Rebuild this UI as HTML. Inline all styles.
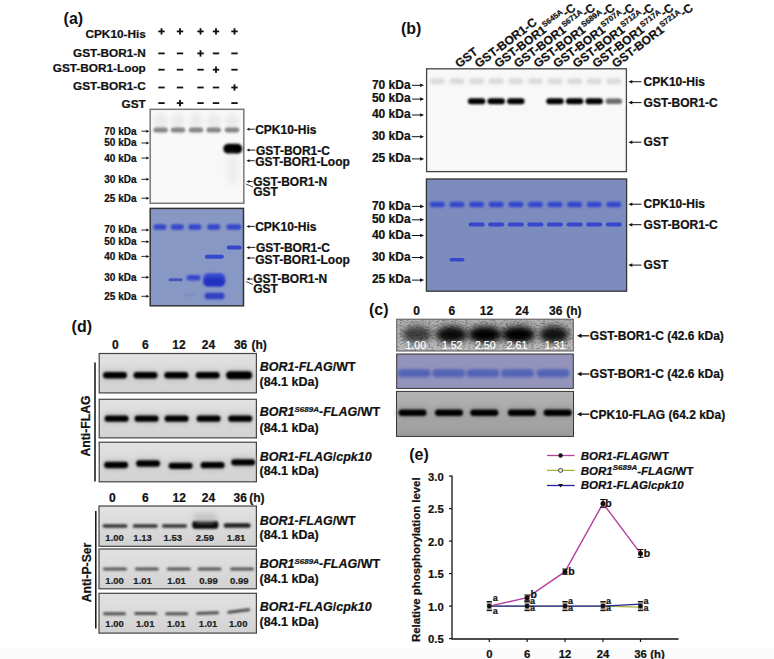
<!DOCTYPE html>
<html><head><meta charset="utf-8"><style>
html,body{margin:0;padding:0;background:#fff;}
svg{display:block;}
text{font-family:"Liberation Sans", sans-serif;}
</style></head><body>
<svg width="774" height="659" viewBox="0 0 774 659">
<rect width="774" height="659" fill="#fff"/><rect x="0" y="648" width="774" height="11" fill="#fbfbfb"/>
<defs><filter id="b0_7" x="-50%" y="-200%" width="200%" height="500%"><feGaussianBlur stdDeviation="0.7"/></filter><filter id="b0_8" x="-50%" y="-200%" width="200%" height="500%"><feGaussianBlur stdDeviation="0.8"/></filter><filter id="b0_9" x="-50%" y="-200%" width="200%" height="500%"><feGaussianBlur stdDeviation="0.9"/></filter><filter id="b1" x="-50%" y="-200%" width="200%" height="500%"><feGaussianBlur stdDeviation="1"/></filter><filter id="b1_1" x="-50%" y="-200%" width="200%" height="500%"><feGaussianBlur stdDeviation="1.1"/></filter><filter id="b1_2" x="-50%" y="-200%" width="200%" height="500%"><feGaussianBlur stdDeviation="1.2"/></filter><filter id="b1_5" x="-50%" y="-200%" width="200%" height="500%"><feGaussianBlur stdDeviation="1.5"/></filter><filter id="b1_6" x="-50%" y="-200%" width="200%" height="500%"><feGaussianBlur stdDeviation="1.6"/></filter><filter id="b2" x="-50%" y="-200%" width="200%" height="500%"><feGaussianBlur stdDeviation="2"/></filter><filter id="b2_5" x="-50%" y="-200%" width="200%" height="500%"><feGaussianBlur stdDeviation="2.5"/></filter><filter id="b3" x="-50%" y="-200%" width="200%" height="500%"><feGaussianBlur stdDeviation="3"/></filter><filter id="b3_2" x="-50%" y="-200%" width="200%" height="500%"><feGaussianBlur stdDeviation="3.2"/></filter><filter id="noise" x="0" y="0" width="100%" height="100%"><feTurbulence type="fractalNoise" baseFrequency="0.35 0.6" numOctaves="3" seed="7"/><feColorMatrix type="matrix" values="0 0 0 0 0  0 0 0 0 0  0 0 0 0 0  0 0 0 2.2 -1.0"/></filter><clipPath id="clipc1"><rect x="396.7" y="319.2" width="176.6" height="31.8"/></clipPath><linearGradient id="gstrip" x1="0" y1="0" x2="0" y2="1"><stop offset="0" stop-color="#e2e2e2"/><stop offset="1" stop-color="#d2d2d2"/></linearGradient><linearGradient id="gstrip3" x1="0" y1="0" x2="0" y2="1"><stop offset="0" stop-color="#b4b4b4"/><stop offset="1" stop-color="#9c9c9c"/></linearGradient></defs>
<text x="63.6" y="24.2" font-size="16" font-weight="bold" fill="#111" class="ns">(a)</text>
<text x="145.8" y="37.5" font-size="11.8" font-weight="bold" font-style="normal" text-anchor="end" fill="#111" stroke="#111" stroke-width="0.22" >CPK10-His</text>
<text x="145.8" y="56.5" font-size="11.8" font-weight="bold" font-style="normal" text-anchor="end" fill="#111" stroke="#111" stroke-width="0.22" >GST-BOR1-N</text>
<text x="145.8" y="72.3" font-size="11.8" font-weight="bold" font-style="normal" text-anchor="end" fill="#111" stroke="#111" stroke-width="0.22" >GST-BOR1-Loop</text>
<text x="145.8" y="90.1" font-size="11.8" font-weight="bold" font-style="normal" text-anchor="end" fill="#111" stroke="#111" stroke-width="0.22" >GST-BOR1-C</text>
<text x="145.8" y="108" font-size="11.8" font-weight="bold" font-style="normal" text-anchor="end" fill="#111" stroke="#111" stroke-width="0.22" >GST</text>
<rect x="158.3" y="30.5" width="6.4" height="1.8" fill="#111"/>
<rect x="160.6" y="28.2" width="1.8" height="6.4" fill="#111"/>
<rect x="176.8" y="30.5" width="6.4" height="1.8" fill="#111"/>
<rect x="179.1" y="28.2" width="1.8" height="6.4" fill="#111"/>
<rect x="197.3" y="30.5" width="6.4" height="1.8" fill="#111"/>
<rect x="199.6" y="28.2" width="1.8" height="6.4" fill="#111"/>
<rect x="212.8" y="30.5" width="6.4" height="1.8" fill="#111"/>
<rect x="215.1" y="28.2" width="1.8" height="6.4" fill="#111"/>
<rect x="231.3" y="30.5" width="6.4" height="1.8" fill="#111"/>
<rect x="233.6" y="28.2" width="1.8" height="6.4" fill="#111"/>
<rect x="158.3" y="52.5" width="6.4" height="1.8" fill="#111"/>
<rect x="176.8" y="52.5" width="6.4" height="1.8" fill="#111"/>
<rect x="197.3" y="52.5" width="6.4" height="1.8" fill="#111"/>
<rect x="199.6" y="50.199999999999996" width="1.8" height="6.4" fill="#111"/>
<rect x="212.8" y="52.5" width="6.4" height="1.8" fill="#111"/>
<rect x="231.3" y="52.5" width="6.4" height="1.8" fill="#111"/>
<rect x="158.3" y="68.8" width="6.4" height="1.8" fill="#111"/>
<rect x="176.8" y="68.8" width="6.4" height="1.8" fill="#111"/>
<rect x="197.3" y="68.8" width="6.4" height="1.8" fill="#111"/>
<rect x="212.8" y="68.8" width="6.4" height="1.8" fill="#111"/>
<rect x="215.1" y="66.5" width="1.8" height="6.4" fill="#111"/>
<rect x="231.3" y="68.8" width="6.4" height="1.8" fill="#111"/>
<rect x="158.3" y="86.6" width="6.4" height="1.8" fill="#111"/>
<rect x="176.8" y="86.6" width="6.4" height="1.8" fill="#111"/>
<rect x="197.3" y="86.6" width="6.4" height="1.8" fill="#111"/>
<rect x="212.8" y="86.6" width="6.4" height="1.8" fill="#111"/>
<rect x="231.3" y="86.6" width="6.4" height="1.8" fill="#111"/>
<rect x="233.6" y="84.3" width="1.8" height="6.4" fill="#111"/>
<rect x="158.3" y="102.19999999999999" width="6.4" height="1.8" fill="#111"/>
<rect x="176.8" y="102.19999999999999" width="6.4" height="1.8" fill="#111"/>
<rect x="179.1" y="99.89999999999999" width="1.8" height="6.4" fill="#111"/>
<rect x="197.3" y="102.19999999999999" width="6.4" height="1.8" fill="#111"/>
<rect x="212.8" y="102.19999999999999" width="6.4" height="1.8" fill="#111"/>
<rect x="231.3" y="102.19999999999999" width="6.4" height="1.8" fill="#111"/>
<rect x="150.2" y="109.3" width="93.6" height="94" fill="#f8f8f8" stroke="#777" stroke-width="1.5"/>
<rect x="153.60" y="113.00" width="14" height="16" rx="8.0" fill="#ebebeb" opacity="1.0" filter="url(#b2)"/>
<rect x="153.35" y="127.50" width="14.5" height="5" rx="2.5" fill="#858585" opacity="1.0" filter="url(#b1_2)"/>
<rect x="171.00" y="113.00" width="14" height="16" rx="8.0" fill="#ebebeb" opacity="1.0" filter="url(#b2)"/>
<rect x="170.75" y="127.50" width="14.5" height="5" rx="2.5" fill="#858585" opacity="1.0" filter="url(#b1_2)"/>
<rect x="189.00" y="113.00" width="14" height="16" rx="8.0" fill="#ebebeb" opacity="1.0" filter="url(#b2)"/>
<rect x="188.75" y="127.50" width="14.5" height="5" rx="2.5" fill="#858585" opacity="1.0" filter="url(#b1_2)"/>
<rect x="206.70" y="113.00" width="14" height="16" rx="8.0" fill="#ebebeb" opacity="1.0" filter="url(#b2)"/>
<rect x="206.45" y="127.50" width="14.5" height="5" rx="2.5" fill="#858585" opacity="1.0" filter="url(#b1_2)"/>
<rect x="225.00" y="113.00" width="14" height="16" rx="8.0" fill="#ebebeb" opacity="1.0" filter="url(#b2)"/>
<rect x="224.75" y="127.50" width="14.5" height="5" rx="2.5" fill="#858585" opacity="1.0" filter="url(#b1_2)"/>
<rect x="223.30" y="143.70" width="19" height="10" rx="5" fill="#000" opacity="1.0" filter="url(#b0_8)"/>
<rect x="226.50" y="155.00" width="12" height="30" rx="15.0" fill="#ececec" opacity="1.0" filter="url(#b3)"/>
<text x="136.5" y="134.6" font-size="10" font-weight="bold" font-style="normal" text-anchor="end" fill="#111" stroke="#111" stroke-width="0.22" >70 kDa</text>
<line x1="141.4" y1="131.2" x2="146.8" y2="131.2" stroke="#111" stroke-width="0.9"/>
<path d="M149.3,131.2 L146.3,129.7 L146.3,132.7 Z" fill="#111"/>
<text x="136.5" y="146.4" font-size="10" font-weight="bold" font-style="normal" text-anchor="end" fill="#111" stroke="#111" stroke-width="0.22" >50 kDa</text>
<line x1="141.4" y1="143" x2="146.8" y2="143" stroke="#111" stroke-width="0.9"/>
<path d="M149.3,143 L146.3,141.5 L146.3,144.5 Z" fill="#111"/>
<text x="136.5" y="161.5" font-size="10" font-weight="bold" font-style="normal" text-anchor="end" fill="#111" stroke="#111" stroke-width="0.22" >40 kDa</text>
<line x1="141.4" y1="158.1" x2="146.8" y2="158.1" stroke="#111" stroke-width="0.9"/>
<path d="M149.3,158.1 L146.3,156.6 L146.3,159.6 Z" fill="#111"/>
<text x="136.5" y="182.70000000000002" font-size="10" font-weight="bold" font-style="normal" text-anchor="end" fill="#111" stroke="#111" stroke-width="0.22" >30 kDa</text>
<line x1="141.4" y1="179.3" x2="146.8" y2="179.3" stroke="#111" stroke-width="0.9"/>
<path d="M149.3,179.3 L146.3,177.8 L146.3,180.8 Z" fill="#111"/>
<text x="136.5" y="201.6" font-size="10" font-weight="bold" font-style="normal" text-anchor="end" fill="#111" stroke="#111" stroke-width="0.22" >25 kDa</text>
<line x1="141.4" y1="198.2" x2="146.8" y2="198.2" stroke="#111" stroke-width="0.9"/>
<path d="M149.3,198.2 L146.3,196.7 L146.3,199.7 Z" fill="#111"/>
<text x="255.2" y="134.4" font-size="12" font-weight="bold" font-style="normal" text-anchor="start" fill="#111" stroke="#111" stroke-width="0.22" >CPK10-His</text>
<line x1="249.0" y1="129.2" x2="254.7" y2="129.2" stroke="#111" stroke-width="0.9"/>
<path d="M246.5,129.2 L249.5,127.69999999999999 L249.5,130.7 Z" fill="#111"/>
<text x="255.89999999999998" y="155.1" font-size="12" font-weight="bold" font-style="normal" text-anchor="start" fill="#111" stroke="#111" stroke-width="0.22" >GST-BOR1-C</text>
<line x1="249.0" y1="150.1" x2="255.39999999999998" y2="150.1" stroke="#111" stroke-width="0.9"/>
<path d="M246.5,150.1 L249.5,148.6 L249.5,151.6 Z" fill="#111"/>
<text x="255.2" y="166.1" font-size="12" font-weight="bold" font-style="normal" text-anchor="start" fill="#111" stroke="#111" stroke-width="0.22" >GST-BOR1-Loop</text>
<line x1="249.0" y1="160.7" x2="254.7" y2="160.7" stroke="#111" stroke-width="0.9"/>
<path d="M246.5,160.7 L249.5,159.2 L249.5,162.2 Z" fill="#111"/>
<text x="253.2" y="186.2" font-size="12" font-weight="bold" font-style="normal" text-anchor="start" fill="#111" stroke="#111" stroke-width="0.22" >GST-BOR1-N</text>
<line x1="249.0" y1="181.5" x2="252.7" y2="181.5" stroke="#111" stroke-width="0.9"/>
<path d="M246.5,181.5 L249.5,180.0 L249.5,183.0 Z" fill="#111"/>
<text x="253.2" y="196.2" font-size="12" font-weight="bold" font-style="normal" text-anchor="start" fill="#111" stroke="#111" stroke-width="0.22" >GST</text>
<path d="M246,184 L253,187" stroke="#111" stroke-width="0.8"/>
<rect x="150.2" y="208.4" width="93.3" height="97.4" fill="#8898c4" stroke="#333" stroke-width="1.5"/>
<rect x="153.40" y="224.25" width="13" height="5.5" rx="2.75" fill="#3646cc" opacity="1.0" filter="url(#b0_8)"/>
<rect x="170.80" y="224.25" width="13" height="5.5" rx="2.75" fill="#3646cc" opacity="1.0" filter="url(#b0_8)"/>
<rect x="188.30" y="224.25" width="13" height="5.5" rx="2.75" fill="#3646cc" opacity="1.0" filter="url(#b0_8)"/>
<rect x="207.20" y="224.25" width="13" height="5.5" rx="2.75" fill="#3646cc" opacity="1.0" filter="url(#b0_8)"/>
<rect x="226.40" y="224.25" width="15" height="5.5" rx="2.75" fill="#3646cc" opacity="1.0" filter="url(#b0_8)"/>
<rect x="226.70" y="245.60" width="15" height="3.8" rx="1.9" fill="#3646cc" opacity="1.0" filter="url(#b0_7)"/>
<rect x="204.80" y="254.70" width="19" height="4" rx="2.0" fill="#3646cc" opacity="1.0" filter="url(#b0_7)"/>
<rect x="168.60" y="278.30" width="14" height="3" rx="1.5" fill="#4654c0" opacity="1.0" filter="url(#b0_7)"/>
<rect x="186.60" y="275.05" width="14" height="5.5" rx="2.75" fill="#3646cc" opacity="1.0" filter="url(#b0_8)"/>
<rect x="203.20" y="273.30" width="22" height="13" rx="5" fill="#3646cc" opacity="1.0" filter="url(#b1_2)"/>
<rect x="204.20" y="278.00" width="20" height="8" rx="4" fill="#2030c0" opacity="1.0" filter="url(#b1)"/>
<rect x="204.50" y="292.85" width="20" height="6.5" rx="3" fill="#3040c4" opacity="1.0" filter="url(#b0_8)"/>
<rect x="185.00" y="294.00" width="12" height="2" rx="1.0" fill="#7a88c0" opacity="1.0" filter="url(#b0_8)"/>
<text x="136.5" y="233.4" font-size="10" font-weight="bold" font-style="normal" text-anchor="end" fill="#111" stroke="#111" stroke-width="0.22" >70 kDa</text>
<line x1="141.4" y1="230" x2="146.8" y2="230" stroke="#111" stroke-width="0.9"/>
<path d="M149.3,230 L146.3,228.5 L146.3,231.5 Z" fill="#111"/>
<text x="136.5" y="245.1" font-size="10" font-weight="bold" font-style="normal" text-anchor="end" fill="#111" stroke="#111" stroke-width="0.22" >50 kDa</text>
<line x1="141.4" y1="241.7" x2="146.8" y2="241.7" stroke="#111" stroke-width="0.9"/>
<path d="M149.3,241.7 L146.3,240.2 L146.3,243.2 Z" fill="#111"/>
<text x="136.5" y="259.79999999999995" font-size="10" font-weight="bold" font-style="normal" text-anchor="end" fill="#111" stroke="#111" stroke-width="0.22" >40 kDa</text>
<line x1="141.4" y1="256.4" x2="146.8" y2="256.4" stroke="#111" stroke-width="0.9"/>
<path d="M149.3,256.4 L146.3,254.89999999999998 L146.3,257.9 Z" fill="#111"/>
<text x="136.5" y="280.7" font-size="10" font-weight="bold" font-style="normal" text-anchor="end" fill="#111" stroke="#111" stroke-width="0.22" >30 kDa</text>
<line x1="141.4" y1="277.3" x2="146.8" y2="277.3" stroke="#111" stroke-width="0.9"/>
<path d="M149.3,277.3 L146.3,275.8 L146.3,278.8 Z" fill="#111"/>
<text x="136.5" y="299.7" font-size="10" font-weight="bold" font-style="normal" text-anchor="end" fill="#111" stroke="#111" stroke-width="0.22" >25 kDa</text>
<line x1="141.4" y1="296.3" x2="146.8" y2="296.3" stroke="#111" stroke-width="0.9"/>
<path d="M149.3,296.3 L146.3,294.8 L146.3,297.8 Z" fill="#111"/>
<text x="255.2" y="230.7" font-size="12" font-weight="bold" font-style="normal" text-anchor="start" fill="#111" stroke="#111" stroke-width="0.22" >CPK10-His</text>
<line x1="249.0" y1="226.4" x2="254.7" y2="226.4" stroke="#111" stroke-width="0.9"/>
<path d="M246.5,226.4 L249.5,224.9 L249.5,227.9 Z" fill="#111"/>
<text x="255.89999999999998" y="252" font-size="12" font-weight="bold" font-style="normal" text-anchor="start" fill="#111" stroke="#111" stroke-width="0.22" >GST-BOR1-C</text>
<line x1="249.0" y1="247.4" x2="255.39999999999998" y2="247.4" stroke="#111" stroke-width="0.9"/>
<path d="M246.5,247.4 L249.5,245.9 L249.5,248.9 Z" fill="#111"/>
<text x="255.2" y="263.5" font-size="12" font-weight="bold" font-style="normal" text-anchor="start" fill="#111" stroke="#111" stroke-width="0.22" >GST-BOR1-Loop</text>
<line x1="249.0" y1="258" x2="254.7" y2="258" stroke="#111" stroke-width="0.9"/>
<path d="M246.5,258 L249.5,256.5 L249.5,259.5 Z" fill="#111"/>
<text x="253.2" y="283.3" font-size="12" font-weight="bold" font-style="normal" text-anchor="start" fill="#111" stroke="#111" stroke-width="0.22" >GST-BOR1-N</text>
<line x1="249.0" y1="279" x2="252.7" y2="279" stroke="#111" stroke-width="0.9"/>
<path d="M246.5,279 L249.5,277.5 L249.5,280.5 Z" fill="#111"/>
<text x="253.2" y="293.3" font-size="12" font-weight="bold" font-style="normal" text-anchor="start" fill="#111" stroke="#111" stroke-width="0.22" >GST</text>
<path d="M246,281.5 L253,284.5" stroke="#111" stroke-width="0.8"/>
<text x="401" y="34.1" font-size="16" font-weight="bold" fill="#111" class="ns">(b)</text>
<text x="0" y="0" font-size="12" font-weight="bold" fill="#111" stroke="#111" stroke-width="0.22" transform="translate(459.00,68.3) rotate(-37)">GST</text>
<text x="0" y="0" font-size="12" font-weight="bold" fill="#111" stroke="#111" stroke-width="0.22" transform="translate(478.60,68.3) rotate(-37)">GST-BOR1-C</text>
<text x="0" y="0" font-size="12" font-weight="bold" fill="#111" stroke="#111" stroke-width="0.22" transform="translate(498.20,68.3) rotate(-37)">GST-BOR1<tspan font-size="7.8" dy="-4.8">S645A</tspan><tspan dy="4.8">-C</tspan></text>
<text x="0" y="0" font-size="12" font-weight="bold" fill="#111" stroke="#111" stroke-width="0.22" transform="translate(517.80,68.3) rotate(-37)">GST-BOR1<tspan font-size="7.8" dy="-4.8">S671A</tspan><tspan dy="4.8">-C</tspan></text>
<text x="0" y="0" font-size="12" font-weight="bold" fill="#111" stroke="#111" stroke-width="0.22" transform="translate(537.40,68.3) rotate(-37)">GST-BOR1<tspan font-size="7.8" dy="-4.8">S689A</tspan><tspan dy="4.8">-C</tspan></text>
<text x="0" y="0" font-size="12" font-weight="bold" fill="#111" stroke="#111" stroke-width="0.22" transform="translate(557.00,68.3) rotate(-37)">GST-BOR1<tspan font-size="7.8" dy="-4.8">S707A</tspan><tspan dy="4.8">-C</tspan></text>
<text x="0" y="0" font-size="12" font-weight="bold" fill="#111" stroke="#111" stroke-width="0.22" transform="translate(576.60,68.3) rotate(-37)">GST-BOR1<tspan font-size="7.8" dy="-4.8">S712A</tspan><tspan dy="4.8">-C</tspan></text>
<text x="0" y="0" font-size="12" font-weight="bold" fill="#111" stroke="#111" stroke-width="0.22" transform="translate(596.20,68.3) rotate(-37)">GST-BOR1<tspan font-size="7.8" dy="-4.8">S717A</tspan><tspan dy="4.8">-C</tspan></text>
<text x="0" y="0" font-size="12" font-weight="bold" fill="#111" stroke="#111" stroke-width="0.22" transform="translate(615.80,68.3) rotate(-37)">GST-BOR1<tspan font-size="7.8" dy="-4.8">S721A</tspan><tspan dy="4.8">-C</tspan></text>
<rect x="426.6" y="68.8" width="199.8" height="102.8" fill="#f8f8f8" stroke="#444" stroke-width="1.3"/>
<rect x="429.90" y="78.20" width="15" height="6" rx="3.0" fill="#dadada" opacity="1.0" filter="url(#b1_5)"/>
<rect x="449.50" y="78.20" width="15" height="6" rx="3.0" fill="#dadada" opacity="1.0" filter="url(#b1_5)"/>
<rect x="469.10" y="78.20" width="15" height="6" rx="3.0" fill="#dadada" opacity="1.0" filter="url(#b1_5)"/>
<rect x="488.70" y="78.20" width="15" height="6" rx="3.0" fill="#dadada" opacity="1.0" filter="url(#b1_5)"/>
<rect x="508.30" y="78.20" width="15" height="6" rx="3.0" fill="#dadada" opacity="1.0" filter="url(#b1_5)"/>
<rect x="527.90" y="78.20" width="15" height="6" rx="3.0" fill="#dadada" opacity="1.0" filter="url(#b1_5)"/>
<rect x="547.50" y="78.20" width="15" height="6" rx="3.0" fill="#dadada" opacity="1.0" filter="url(#b1_5)"/>
<rect x="567.10" y="78.20" width="15" height="6" rx="3.0" fill="#dadada" opacity="1.0" filter="url(#b1_5)"/>
<rect x="586.70" y="78.20" width="15" height="6" rx="3.0" fill="#dadada" opacity="1.0" filter="url(#b1_5)"/>
<rect x="606.30" y="78.20" width="15" height="6" rx="3.0" fill="#dadada" opacity="1.0" filter="url(#b1_5)"/>
<rect x="467.85" y="98.30" width="17.5" height="6" rx="3.0" fill="#000" opacity="1.0" filter="url(#b0_9)"/>
<rect x="487.45" y="98.30" width="17.5" height="6" rx="3.0" fill="#000" opacity="1.0" filter="url(#b0_9)"/>
<rect x="507.05" y="98.30" width="17.5" height="6" rx="3.0" fill="#000" opacity="1.0" filter="url(#b0_9)"/>
<rect x="546.25" y="98.30" width="17.5" height="6" rx="3.0" fill="#000" opacity="1.0" filter="url(#b0_9)"/>
<rect x="565.85" y="98.30" width="17.5" height="6" rx="3.0" fill="#000" opacity="1.0" filter="url(#b0_9)"/>
<rect x="585.45" y="98.30" width="17.5" height="6" rx="3.0" fill="#000" opacity="1.0" filter="url(#b0_9)"/>
<rect x="605.55" y="98.55" width="16.5" height="5.5" rx="2.75" fill="#6a6a6a" opacity="1.0" filter="url(#b1_1)"/>
<text x="410.6" y="89.1" font-size="12" font-weight="bold" font-style="normal" text-anchor="end" fill="#111" stroke="#111" stroke-width="0.22" >70 kDa</text>
<line x1="411.9" y1="85.3" x2="420.6" y2="85.3" stroke="#111" stroke-width="1"/>
<path d="M424.1,85.3 L420.1,83.5 L420.1,87.1 Z" fill="#111"/>
<text x="410.6" y="102" font-size="12" font-weight="bold" font-style="normal" text-anchor="end" fill="#111" stroke="#111" stroke-width="0.22" >50 kDa</text>
<line x1="411.9" y1="99.1" x2="420.6" y2="99.1" stroke="#111" stroke-width="1"/>
<path d="M424.1,99.1 L420.1,97.3 L420.1,100.89999999999999 Z" fill="#111"/>
<text x="410.6" y="117.7" font-size="12" font-weight="bold" font-style="normal" text-anchor="end" fill="#111" stroke="#111" stroke-width="0.22" >40 kDa</text>
<line x1="411.9" y1="115" x2="420.6" y2="115" stroke="#111" stroke-width="1"/>
<path d="M424.1,115 L420.1,113.2 L420.1,116.8 Z" fill="#111"/>
<text x="410.6" y="139.5" font-size="12" font-weight="bold" font-style="normal" text-anchor="end" fill="#111" stroke="#111" stroke-width="0.22" >30 kDa</text>
<line x1="411.9" y1="136.7" x2="420.6" y2="136.7" stroke="#111" stroke-width="1"/>
<path d="M424.1,136.7 L420.1,134.89999999999998 L420.1,138.5 Z" fill="#111"/>
<text x="410.6" y="161.8" font-size="12" font-weight="bold" font-style="normal" text-anchor="end" fill="#111" stroke="#111" stroke-width="0.22" >25 kDa</text>
<line x1="411.9" y1="158.9" x2="420.6" y2="158.9" stroke="#111" stroke-width="1"/>
<path d="M424.1,158.9 L420.1,157.1 L420.1,160.70000000000002 Z" fill="#111"/>
<text x="643.6" y="85.6" font-size="12" font-weight="bold" font-style="normal" text-anchor="start" fill="#111" stroke="#111" stroke-width="0.22" >CPK10-His</text>
<line x1="631.8" y1="81.7" x2="641.5" y2="81.7" stroke="#111" stroke-width="1"/>
<path d="M628.3,81.7 L632.3,79.9 L632.3,83.5 Z" fill="#111"/>
<text x="643.6" y="107.1" font-size="12" font-weight="bold" font-style="normal" text-anchor="start" fill="#111" stroke="#111" stroke-width="0.22" >GST-BOR1-C</text>
<line x1="631.8" y1="102.6" x2="641.5" y2="102.6" stroke="#111" stroke-width="1"/>
<path d="M628.3,102.6 L632.3,100.8 L632.3,104.39999999999999 Z" fill="#111"/>
<text x="643.6" y="146.3" font-size="12" font-weight="bold" font-style="normal" text-anchor="start" fill="#111" stroke="#111" stroke-width="0.22" >GST</text>
<line x1="631.8" y1="142.2" x2="641.5" y2="142.2" stroke="#111" stroke-width="1"/>
<path d="M628.3,142.2 L632.3,140.39999999999998 L632.3,144.0 Z" fill="#111"/>
<rect x="426.4" y="179" width="200.2" height="112.2" fill="#7c8cbf" stroke="#333" stroke-width="1.3"/>
<rect x="429.90" y="201.75" width="15" height="5.5" rx="2.75" fill="#3646cc" opacity="1.0" filter="url(#b0_8)"/>
<rect x="449.50" y="201.75" width="15" height="5.5" rx="2.75" fill="#3646cc" opacity="1.0" filter="url(#b0_8)"/>
<rect x="469.10" y="201.75" width="15" height="5.5" rx="2.75" fill="#3646cc" opacity="1.0" filter="url(#b0_8)"/>
<rect x="488.70" y="201.75" width="15" height="5.5" rx="2.75" fill="#3646cc" opacity="1.0" filter="url(#b0_8)"/>
<rect x="508.30" y="201.75" width="15" height="5.5" rx="2.75" fill="#3646cc" opacity="1.0" filter="url(#b0_8)"/>
<rect x="527.90" y="201.75" width="15" height="5.5" rx="2.75" fill="#3646cc" opacity="1.0" filter="url(#b0_8)"/>
<rect x="547.50" y="201.75" width="15" height="5.5" rx="2.75" fill="#3646cc" opacity="1.0" filter="url(#b0_8)"/>
<rect x="567.10" y="201.75" width="15" height="5.5" rx="2.75" fill="#3646cc" opacity="1.0" filter="url(#b0_8)"/>
<rect x="586.70" y="201.75" width="15" height="5.5" rx="2.75" fill="#3646cc" opacity="1.0" filter="url(#b0_8)"/>
<rect x="606.30" y="201.75" width="15" height="5.5" rx="2.75" fill="#3646cc" opacity="1.0" filter="url(#b0_8)"/>
<rect x="468.60" y="222.60" width="16" height="4" rx="2.0" fill="#3646cc" opacity="1.0" filter="url(#b0_7)"/>
<rect x="488.20" y="222.60" width="16" height="4" rx="2.0" fill="#3646cc" opacity="1.0" filter="url(#b0_7)"/>
<rect x="507.80" y="222.60" width="16" height="4" rx="2.0" fill="#3646cc" opacity="1.0" filter="url(#b0_7)"/>
<rect x="527.40" y="222.60" width="16" height="4" rx="2.0" fill="#3646cc" opacity="1.0" filter="url(#b0_7)"/>
<rect x="547.00" y="222.60" width="16" height="4" rx="2.0" fill="#3646cc" opacity="1.0" filter="url(#b0_7)"/>
<rect x="566.60" y="222.60" width="16" height="4" rx="2.0" fill="#3646cc" opacity="1.0" filter="url(#b0_7)"/>
<rect x="586.20" y="222.60" width="16" height="4" rx="2.0" fill="#3646cc" opacity="1.0" filter="url(#b0_7)"/>
<rect x="605.80" y="222.60" width="16" height="4" rx="2.0" fill="#3646cc" opacity="1.0" filter="url(#b0_7)"/>
<rect x="449.50" y="257.95" width="15" height="3.5" rx="1.75" fill="#3646cc" opacity="1.0" filter="url(#b0_7)"/>
<text x="410.6" y="209.9" font-size="12" font-weight="bold" font-style="normal" text-anchor="end" fill="#111" stroke="#111" stroke-width="0.22" >70 kDa</text>
<line x1="411.9" y1="206.4" x2="420.6" y2="206.4" stroke="#111" stroke-width="1"/>
<path d="M424.1,206.4 L420.1,204.6 L420.1,208.20000000000002 Z" fill="#111"/>
<text x="410.6" y="222.9" font-size="12" font-weight="bold" font-style="normal" text-anchor="end" fill="#111" stroke="#111" stroke-width="0.22" >50 kDa</text>
<line x1="411.9" y1="219.8" x2="420.6" y2="219.8" stroke="#111" stroke-width="1"/>
<path d="M424.1,219.8 L420.1,218.0 L420.1,221.60000000000002 Z" fill="#111"/>
<text x="410.6" y="238.6" font-size="12" font-weight="bold" font-style="normal" text-anchor="end" fill="#111" stroke="#111" stroke-width="0.22" >40 kDa</text>
<line x1="411.9" y1="235.5" x2="420.6" y2="235.5" stroke="#111" stroke-width="1"/>
<path d="M424.1,235.5 L420.1,233.7 L420.1,237.3 Z" fill="#111"/>
<text x="410.6" y="260.7" font-size="12" font-weight="bold" font-style="normal" text-anchor="end" fill="#111" stroke="#111" stroke-width="0.22" >30 kDa</text>
<line x1="411.9" y1="257.5" x2="420.6" y2="257.5" stroke="#111" stroke-width="1"/>
<path d="M424.1,257.5 L420.1,255.7 L420.1,259.3 Z" fill="#111"/>
<text x="410.6" y="283.1" font-size="12" font-weight="bold" font-style="normal" text-anchor="end" fill="#111" stroke="#111" stroke-width="0.22" >25 kDa</text>
<line x1="411.9" y1="280.1" x2="420.6" y2="280.1" stroke="#111" stroke-width="1"/>
<path d="M424.1,280.1 L420.1,278.3 L420.1,281.90000000000003 Z" fill="#111"/>
<text x="643.6" y="207.8" font-size="12" font-weight="bold" font-style="normal" text-anchor="start" fill="#111" stroke="#111" stroke-width="0.22" >CPK10-His</text>
<line x1="631.8" y1="204.2" x2="641.5" y2="204.2" stroke="#111" stroke-width="1"/>
<path d="M628.3,204.2 L632.3,202.39999999999998 L632.3,206.0 Z" fill="#111"/>
<text x="643.6" y="229.2" font-size="12" font-weight="bold" font-style="normal" text-anchor="start" fill="#111" stroke="#111" stroke-width="0.22" >GST-BOR1-C</text>
<line x1="631.8" y1="224.7" x2="641.5" y2="224.7" stroke="#111" stroke-width="1"/>
<path d="M628.3,224.7 L632.3,222.89999999999998 L632.3,226.5 Z" fill="#111"/>
<text x="643.6" y="268.8" font-size="12" font-weight="bold" font-style="normal" text-anchor="start" fill="#111" stroke="#111" stroke-width="0.22" >GST</text>
<line x1="631.8" y1="265.1" x2="641.5" y2="265.1" stroke="#111" stroke-width="1"/>
<path d="M628.3,265.1 L632.3,263.3 L632.3,266.90000000000003 Z" fill="#111"/>
<text x="369" y="315.2" font-size="16" font-weight="bold" fill="#111" class="ns">(c)</text>
<text x="416.7" y="314.8" font-size="12" font-weight="bold" font-style="normal" text-anchor="middle" fill="#111" stroke="#111" stroke-width="0.22" >0</text>
<text x="451.8" y="314.8" font-size="12" font-weight="bold" font-style="normal" text-anchor="middle" fill="#111" stroke="#111" stroke-width="0.22" >6</text>
<text x="486.5" y="314.8" font-size="12" font-weight="bold" font-style="normal" text-anchor="middle" fill="#111" stroke="#111" stroke-width="0.22" >12</text>
<text x="522" y="314.8" font-size="12" font-weight="bold" font-style="normal" text-anchor="middle" fill="#111" stroke="#111" stroke-width="0.22" >24</text>
<text x="555.7" y="314.8" font-size="12" font-weight="bold" font-style="normal" text-anchor="middle" fill="#111" stroke="#111" stroke-width="0.22" >36</text>
<text x="566.3" y="314.8" font-size="12" font-weight="bold" font-style="normal" text-anchor="start" fill="#111" stroke="#111" stroke-width="0.22" >(h)</text>
<g clip-path="url(#clipc1)">
<rect x="396.7" y="319.2" width="176.6" height="31.8" fill="#bdbdbd"/>
<rect x="396.7" y="319.2" width="176.6" height="14" fill="#a0a0a0" opacity="0.5" filter="url(#b3)"/>
<rect x="396.7" y="319.2" width="176.6" height="31.8" fill="#000" filter="url(#noise)" opacity="0.4"/>
<ellipse cx="417.00" cy="334.80" rx="15.0" ry="8.5" fill="#000" opacity="0.65" filter="url(#b3_2)"/>
<ellipse cx="451.60" cy="334.80" rx="16.0" ry="8.5" fill="#000" opacity="0.95" filter="url(#b3_2)"/>
<ellipse cx="485.00" cy="334.80" rx="17.0" ry="8.5" fill="#000" opacity="1.0" filter="url(#b3_2)"/>
<ellipse cx="518.50" cy="334.80" rx="17.0" ry="8.5" fill="#000" opacity="1.0" filter="url(#b3_2)"/>
<ellipse cx="554.00" cy="334.80" rx="15.0" ry="8.5" fill="#000" opacity="0.9" filter="url(#b3_2)"/>
</g>
<rect x="396.7" y="319.2" width="176.6" height="31.8" fill="none" stroke="#555" stroke-width="1"/>
<text x="415.8" y="349.3" font-size="10.5" font-weight="normal" font-style="normal" text-anchor="middle" fill="#fff" stroke="#fff" stroke-width="0.22" >1.00</text>
<text x="452.2" y="349.3" font-size="10.5" font-weight="normal" font-style="normal" text-anchor="middle" fill="#fff" stroke="#fff" stroke-width="0.22" >1.52</text>
<text x="485.3" y="349.3" font-size="10.5" font-weight="normal" font-style="normal" text-anchor="middle" fill="#fff" stroke="#fff" stroke-width="0.22" >2.50</text>
<text x="517" y="349.3" font-size="10.5" font-weight="normal" font-style="normal" text-anchor="middle" fill="#fff" stroke="#fff" stroke-width="0.22" >2.61</text>
<text x="555" y="349.3" font-size="10.5" font-weight="normal" font-style="normal" text-anchor="middle" fill="#fff" stroke="#fff" stroke-width="0.22" >1.31</text>
<rect x="396.7" y="354" width="176.6" height="34.4" fill="#9393bc" stroke="#333" stroke-width="1"/>
<rect x="397.70" y="369.20" width="33" height="8" rx="4.0" fill="#5264b6" opacity="1.0" filter="url(#b1_6)"/>
<rect x="432.20" y="369.20" width="33" height="8" rx="4.0" fill="#5264b6" opacity="1.0" filter="url(#b1_6)"/>
<rect x="466.40" y="369.20" width="33" height="8" rx="4.0" fill="#5264b6" opacity="1.0" filter="url(#b1_6)"/>
<rect x="501.00" y="369.20" width="33" height="8" rx="4.0" fill="#5264b6" opacity="1.0" filter="url(#b1_6)"/>
<rect x="536.50" y="369.20" width="33" height="8" rx="4.0" fill="#5264b6" opacity="1.0" filter="url(#b1_6)"/>
<rect x="396.5" y="391.4" width="177" height="45" fill="url(#gstrip3)" stroke="#333" stroke-width="1"/>
<rect x="396.50" y="406.70" width="32" height="12" rx="6.0" fill="#909090" opacity="0.6" filter="url(#b2_5)"/>
<rect x="398.50" y="409.45" width="28" height="6.5" rx="3.25" fill="#000" opacity="1.0" filter="url(#b0_9)"/>
<rect x="433.00" y="406.70" width="32" height="12" rx="6.0" fill="#909090" opacity="0.6" filter="url(#b2_5)"/>
<rect x="435.00" y="409.45" width="28" height="6.5" rx="3.25" fill="#000" opacity="1.0" filter="url(#b0_9)"/>
<rect x="468.30" y="406.70" width="32" height="12" rx="6.0" fill="#909090" opacity="0.6" filter="url(#b2_5)"/>
<rect x="470.30" y="409.45" width="28" height="6.5" rx="3.25" fill="#000" opacity="1.0" filter="url(#b0_9)"/>
<rect x="505.90" y="406.70" width="32" height="12" rx="6.0" fill="#909090" opacity="0.6" filter="url(#b2_5)"/>
<rect x="507.90" y="409.45" width="28" height="6.5" rx="3.25" fill="#000" opacity="1.0" filter="url(#b0_9)"/>
<rect x="541.70" y="406.70" width="32" height="12" rx="6.0" fill="#909090" opacity="0.6" filter="url(#b2_5)"/>
<rect x="543.70" y="409.45" width="28" height="6.5" rx="3.25" fill="#000" opacity="1.0" filter="url(#b0_9)"/>
<text x="589.8" y="339.9" font-size="12" font-weight="bold" font-style="normal" text-anchor="start" fill="#111" stroke="#111" stroke-width="0.22" >GST-BOR1-C (42.6 kDa)</text>
<line x1="581.0" y1="335.8" x2="589.3" y2="335.8" stroke="#111" stroke-width="1.3"/>
<path d="M577,335.8 L581.5,333.6 L581.5,338.0 Z" fill="#111"/>
<text x="589.8" y="378.2" font-size="12" font-weight="bold" font-style="normal" text-anchor="start" fill="#111" stroke="#111" stroke-width="0.22" >GST-BOR1-C (42.6 kDa)</text>
<line x1="581.0" y1="374" x2="589.3" y2="374" stroke="#111" stroke-width="1.3"/>
<path d="M577,374 L581.5,371.8 L581.5,376.2 Z" fill="#111"/>
<text x="589.8" y="418.8" font-size="12" font-weight="bold" font-style="normal" text-anchor="start" fill="#111" stroke="#111" stroke-width="0.22" >CPK10-FLAG (64.2 kDa)</text>
<line x1="581.0" y1="414.2" x2="589.3" y2="414.2" stroke="#111" stroke-width="1.3"/>
<path d="M577,414.2 L581.5,412.0 L581.5,416.4 Z" fill="#111"/>
<text x="71.6" y="331.5" font-size="16" font-weight="bold" fill="#111" class="ns">(d)</text>
<text x="115.3" y="349.3" font-size="12" font-weight="bold" font-style="normal" text-anchor="middle" fill="#111" stroke="#111" stroke-width="0.22" >0</text>
<text x="145.4" y="349.3" font-size="12" font-weight="bold" font-style="normal" text-anchor="middle" fill="#111" stroke="#111" stroke-width="0.22" >6</text>
<text x="178.9" y="349.3" font-size="12" font-weight="bold" font-style="normal" text-anchor="middle" fill="#111" stroke="#111" stroke-width="0.22" >12</text>
<text x="208.4" y="349.3" font-size="12" font-weight="bold" font-style="normal" text-anchor="middle" fill="#111" stroke="#111" stroke-width="0.22" >24</text>
<text x="240.6" y="349.3" font-size="12" font-weight="bold" font-style="normal" text-anchor="middle" fill="#111" stroke="#111" stroke-width="0.22" >36</text>
<text x="251.5" y="349.3" font-size="12" font-weight="bold" font-style="normal" text-anchor="start" fill="#111" stroke="#111" stroke-width="0.22" >(h)</text>
<rect x="99.2" y="353.5" width="157.2" height="39.39999999999998" fill="url(#gstrip)" stroke="#444" stroke-width="1.2"/>
<rect x="99.2" y="399.3" width="157.2" height="38.599999999999966" fill="url(#gstrip)" stroke="#444" stroke-width="1.2"/>
<rect x="99.2" y="442.2" width="157.2" height="39.60000000000002" fill="url(#gstrip)" stroke="#444" stroke-width="1.2"/>
<rect x="101.00" y="369.25" width="28" height="12.5" rx="6.25" fill="#b8b8b8" opacity="0.6" filter="url(#b2_5)"/>
<rect x="103.00" y="371.95" width="24" height="6.5" rx="3.25" fill="#050505" opacity="1.0" filter="url(#b0_8)"/>
<rect x="131.50" y="369.25" width="28" height="12.5" rx="6.25" fill="#b8b8b8" opacity="0.6" filter="url(#b2_5)"/>
<rect x="133.50" y="371.95" width="24" height="6.5" rx="3.25" fill="#050505" opacity="1.0" filter="url(#b0_8)"/>
<rect x="162.30" y="369.25" width="28" height="12.5" rx="6.25" fill="#b8b8b8" opacity="0.6" filter="url(#b2_5)"/>
<rect x="164.30" y="371.95" width="24" height="6.5" rx="3.25" fill="#050505" opacity="1.0" filter="url(#b0_8)"/>
<rect x="193.70" y="369.25" width="28" height="12.5" rx="6.25" fill="#b8b8b8" opacity="0.6" filter="url(#b2_5)"/>
<rect x="195.70" y="371.95" width="24" height="6.5" rx="3.25" fill="#050505" opacity="1.0" filter="url(#b0_8)"/>
<rect x="224.10" y="368.50" width="30" height="14" rx="7.0" fill="#b8b8b8" opacity="0.6" filter="url(#b2_5)"/>
<rect x="226.10" y="371.20" width="26" height="8" rx="4.0" fill="#050505" opacity="1.0" filter="url(#b0_8)"/>
<rect x="102.60" y="412.60" width="28" height="12" rx="6.0" fill="#b8b8b8" opacity="0.6" filter="url(#b2_5)"/>
<rect x="104.60" y="415.55" width="24" height="6.3" rx="3.15" fill="#050505" opacity="1.0" filter="url(#b0_8)"/>
<rect x="132.60" y="412.60" width="28" height="12" rx="6.0" fill="#b8b8b8" opacity="0.6" filter="url(#b2_5)"/>
<rect x="134.60" y="415.55" width="24" height="6.3" rx="3.15" fill="#050505" opacity="1.0" filter="url(#b0_8)"/>
<rect x="162.60" y="412.60" width="28" height="12" rx="6.0" fill="#b8b8b8" opacity="0.6" filter="url(#b2_5)"/>
<rect x="164.60" y="415.55" width="24" height="6.3" rx="3.15" fill="#050505" opacity="1.0" filter="url(#b0_8)"/>
<rect x="194.60" y="412.60" width="28" height="12" rx="6.0" fill="#b8b8b8" opacity="0.6" filter="url(#b2_5)"/>
<rect x="196.60" y="415.55" width="24" height="6.3" rx="3.15" fill="#050505" opacity="1.0" filter="url(#b0_8)"/>
<rect x="226.20" y="412.60" width="28" height="12" rx="6.0" fill="#b8b8b8" opacity="0.6" filter="url(#b2_5)"/>
<rect x="228.20" y="415.55" width="24" height="6.3" rx="3.15" fill="#050505" opacity="1.0" filter="url(#b0_8)"/>
<rect x="102.10" y="459.00" width="28" height="12" rx="6.0" fill="#b8b8b8" opacity="0.6" filter="url(#b2_5)"/>
<rect x="104.10" y="461.85" width="24" height="6.3" rx="3.15" fill="#050505" opacity="1.0" filter="url(#b0_8)"/>
<rect x="134.10" y="457.50" width="28" height="12" rx="6.0" fill="#b8b8b8" opacity="0.6" filter="url(#b2_5)"/>
<rect x="136.10" y="460.35" width="24" height="6.3" rx="3.15" fill="#050505" opacity="1.0" filter="url(#b0_8)"/>
<rect x="166.60" y="459.80" width="28" height="12" rx="6.0" fill="#b8b8b8" opacity="0.6" filter="url(#b2_5)"/>
<rect x="168.60" y="462.65" width="24" height="6.3" rx="3.15" fill="#050505" opacity="1.0" filter="url(#b0_8)"/>
<rect x="198.60" y="459.20" width="28" height="12" rx="6.0" fill="#b8b8b8" opacity="0.6" filter="url(#b2_5)"/>
<rect x="200.60" y="462.05" width="24" height="6.3" rx="3.15" fill="#050505" opacity="1.0" filter="url(#b0_8)"/>
<rect x="229.20" y="456.30" width="28" height="12" rx="6.0" fill="#b8b8b8" opacity="0.6" filter="url(#b2_5)"/>
<rect x="231.20" y="459.15" width="24" height="6.3" rx="3.15" fill="#050505" opacity="1.0" filter="url(#b0_8)"/>
<line x1="95" y1="362.6" x2="95" y2="481.4" stroke="#111" stroke-width="1.5"/>
<text x="0" y="0" font-size="12.2" font-weight="bold" text-anchor="middle" fill="#111" stroke="#111" stroke-width="0.22" transform="translate(89.5,426) rotate(-90)">Anti-FLAG</text>
<text x="259.8" y="370.8" font-size="12.5" font-weight="bold" fill="#111" stroke="#111" stroke-width="0.22"><tspan font-style="italic">BOR1-FLAG</tspan>/WT</text>
<text x="259.5" y="385.7" font-size="12.5" font-weight="bold" font-style="normal" text-anchor="start" fill="#111" stroke="#111" stroke-width="0.22" >(84.1 kDa)</text>
<text x="259.8" y="416.3" font-size="12.5" font-weight="bold" fill="#111" stroke="#111" stroke-width="0.22"><tspan font-style="italic">BOR1</tspan><tspan font-style="italic" font-size="8" dy="-4">S689A</tspan><tspan font-style="italic" dy="4">-FLAG</tspan>/WT</text>
<text x="259.5" y="431.8" font-size="12.5" font-weight="bold" font-style="normal" text-anchor="start" fill="#111" stroke="#111" stroke-width="0.22" >(84.1 kDa)</text>
<text x="259.8" y="460.9" font-size="12.5" font-weight="bold" fill="#111" stroke="#111" stroke-width="0.22"><tspan font-style="italic">BOR1-FLAG</tspan>/<tspan font-style="italic">cpk10</tspan></text>
<text x="259.5" y="475.3" font-size="12.5" font-weight="bold" font-style="normal" text-anchor="start" fill="#111" stroke="#111" stroke-width="0.22" >(84.1 kDa)</text>
<text x="112.3" y="502" font-size="12" font-weight="bold" font-style="normal" text-anchor="middle" fill="#111" stroke="#111" stroke-width="0.22" >0</text>
<text x="145.3" y="502" font-size="12" font-weight="bold" font-style="normal" text-anchor="middle" fill="#111" stroke="#111" stroke-width="0.22" >6</text>
<text x="179.3" y="502" font-size="12" font-weight="bold" font-style="normal" text-anchor="middle" fill="#111" stroke="#111" stroke-width="0.22" >12</text>
<text x="208.4" y="502" font-size="12" font-weight="bold" font-style="normal" text-anchor="middle" fill="#111" stroke="#111" stroke-width="0.22" >24</text>
<text x="240.2" y="502" font-size="12" font-weight="bold" font-style="normal" text-anchor="middle" fill="#111" stroke="#111" stroke-width="0.22" >36</text>
<text x="249.3" y="502" font-size="12" font-weight="bold" font-style="normal" text-anchor="start" fill="#111" stroke="#111" stroke-width="0.22" >(h)</text>
<rect x="99" y="506" width="157.4" height="40.299999999999955" fill="url(#gstrip)" stroke="#444" stroke-width="1.2"/>
<rect x="99" y="549" width="157.4" height="39.799999999999955" fill="url(#gstrip)" stroke="#444" stroke-width="1.2"/>
<rect x="99" y="593.3" width="157.4" height="39.80000000000007" fill="url(#gstrip)" stroke="#444" stroke-width="1.2"/>
<rect x="102.50" y="524.15" width="25" height="3.5" rx="1.75" fill="#333" opacity="1.0" filter="url(#b0_8)"/>
<rect x="132.80" y="524.15" width="25" height="3.5" rx="1.75" fill="#333" opacity="1.0" filter="url(#b0_8)"/>
<rect x="162.00" y="524.15" width="25" height="3.5" rx="1.75" fill="#333" opacity="1.0" filter="url(#b0_8)"/>
<rect x="192.30" y="520.80" width="26" height="8" rx="3" fill="#000" opacity="1.0" filter="url(#b1_1)"/>
<rect x="193.30" y="513.00" width="24" height="10" rx="5.0" fill="#bbb" opacity="0.7" filter="url(#b2_5)"/>
<rect x="223.70" y="523.25" width="27" height="4.5" rx="2.25" fill="#222" opacity="1.0" filter="url(#b0_9)"/>
<text x="114.6" y="541" font-size="9.5" font-weight="bold" font-style="normal" text-anchor="middle" fill="#222" stroke="#222" stroke-width="0.22" >1.00</text>
<text x="142.6" y="541" font-size="9.5" font-weight="bold" font-style="normal" text-anchor="middle" fill="#222" stroke="#222" stroke-width="0.22" >1.13</text>
<text x="172.8" y="541" font-size="9.5" font-weight="bold" font-style="normal" text-anchor="middle" fill="#222" stroke="#222" stroke-width="0.22" >1.53</text>
<text x="204.9" y="541" font-size="9.5" font-weight="bold" font-style="normal" text-anchor="middle" fill="#222" stroke="#222" stroke-width="0.22" >2.59</text>
<text x="236.1" y="541" font-size="9.5" font-weight="bold" font-style="normal" text-anchor="middle" fill="#222" stroke="#222" stroke-width="0.22" >1.81</text>
<rect x="103.00" y="567.50" width="24" height="3" rx="1.5" fill="#555" opacity="1.0" filter="url(#b0_8)"/>
<rect x="134.80" y="567.50" width="24" height="3" rx="1.5" fill="#555" opacity="1.0" filter="url(#b0_8)"/>
<rect x="166.70" y="567.50" width="24" height="3" rx="1.5" fill="#555" opacity="1.0" filter="url(#b0_8)"/>
<rect x="197.50" y="567.50" width="24" height="3" rx="1.5" fill="#555" opacity="1.0" filter="url(#b0_8)"/>
<rect x="230.00" y="567.50" width="24" height="3" rx="1.5" fill="#555" opacity="1.0" filter="url(#b0_8)"/>
<text x="114.6" y="584" font-size="9.5" font-weight="bold" font-style="normal" text-anchor="middle" fill="#222" stroke="#222" stroke-width="0.22" >1.00</text>
<text x="142.6" y="584" font-size="9.5" font-weight="bold" font-style="normal" text-anchor="middle" fill="#222" stroke="#222" stroke-width="0.22" >1.01</text>
<text x="176.6" y="584" font-size="9.5" font-weight="bold" font-style="normal" text-anchor="middle" fill="#222" stroke="#222" stroke-width="0.22" >1.01</text>
<text x="208.5" y="584" font-size="9.5" font-weight="bold" font-style="normal" text-anchor="middle" fill="#222" stroke="#222" stroke-width="0.22" >0.99</text>
<text x="239.3" y="584" font-size="9.5" font-weight="bold" font-style="normal" text-anchor="middle" fill="#222" stroke="#222" stroke-width="0.22" >0.99</text>
<rect x="103.00" y="612.20" width="23" height="3" rx="1.5" fill="#505050" opacity="1.0" filter="url(#b0_8)"/>
<rect x="134.20" y="612.00" width="23" height="3" rx="1.5" fill="#505050" opacity="1.0" filter="url(#b0_8)"/>
<rect x="165.20" y="612.30" width="23" height="3" rx="1.5" fill="#505050" opacity="1.0" filter="url(#b0_8)"/>
<g filter="url(#b0_8)"><rect x="196.00" y="611.70" width="23" height="3" rx="1.5" fill="#505050" opacity="1.0" transform="rotate(-2 207.5 613.2)"/></g>
<g filter="url(#b0_8)"><rect x="227.30" y="609.50" width="23" height="3" rx="1.5" fill="#505050" opacity="1.0" transform="rotate(-7 238.8 611)"/></g>
<text x="114.6" y="627" font-size="9.5" font-weight="bold" font-style="normal" text-anchor="middle" fill="#222" stroke="#222" stroke-width="0.22" >1.00</text>
<text x="145.2" y="627" font-size="9.5" font-weight="bold" font-style="normal" text-anchor="middle" fill="#222" stroke="#222" stroke-width="0.22" >1.01</text>
<text x="176.2" y="627" font-size="9.5" font-weight="bold" font-style="normal" text-anchor="middle" fill="#222" stroke="#222" stroke-width="0.22" >1.01</text>
<text x="208.1" y="627" font-size="9.5" font-weight="bold" font-style="normal" text-anchor="middle" fill="#222" stroke="#222" stroke-width="0.22" >1.01</text>
<text x="238.2" y="627" font-size="9.5" font-weight="bold" font-style="normal" text-anchor="middle" fill="#222" stroke="#222" stroke-width="0.22" >1.00</text>
<line x1="95.8" y1="510.9" x2="95.8" y2="628.6" stroke="#111" stroke-width="1.5"/>
<text x="0" y="0" font-size="12.2" font-weight="bold" text-anchor="middle" fill="#111" stroke="#111" stroke-width="0.22" transform="translate(91.2,572.5) rotate(-90)">Anti-P-Ser</text>
<text x="259.8" y="524.6" font-size="12.5" font-weight="bold" fill="#111" stroke="#111" stroke-width="0.22"><tspan font-style="italic">BOR1-FLAG</tspan>/WT</text>
<text x="259.5" y="539.4" font-size="12.5" font-weight="bold" font-style="normal" text-anchor="start" fill="#111" stroke="#111" stroke-width="0.22" >(84.1 kDa)</text>
<text x="259.8" y="567.7" font-size="12.5" font-weight="bold" fill="#111" stroke="#111" stroke-width="0.22"><tspan font-style="italic">BOR1</tspan><tspan font-style="italic" font-size="8" dy="-4">S689A</tspan><tspan font-style="italic" dy="4">-FLAG</tspan>/WT</text>
<text x="259.5" y="582.5" font-size="12.5" font-weight="bold" font-style="normal" text-anchor="start" fill="#111" stroke="#111" stroke-width="0.22" >(84.1 kDa)</text>
<text x="259.8" y="610.8" font-size="12.5" font-weight="bold" fill="#111" stroke="#111" stroke-width="0.22"><tspan font-style="italic">BOR1-FLAG</tspan>/<tspan font-style="italic">cpk10</tspan></text>
<text x="259.5" y="626.2" font-size="12.5" font-weight="bold" font-style="normal" text-anchor="start" fill="#111" stroke="#111" stroke-width="0.22" >(84.1 kDa)</text>
<text x="409.2" y="460" font-size="16" font-weight="bold" fill="#111" class="ns">(e)</text>
<line x1="452" y1="475.6" x2="452" y2="639" stroke="#111" stroke-width="1.3"/>
<line x1="451.4" y1="639" x2="678.6" y2="639" stroke="#111" stroke-width="1.3"/>
<line x1="449" y1="476.1" x2="452" y2="476.1" stroke="#111" stroke-width="1.2"/>
<text x="443.8" y="480.70000000000005" font-size="11.3" font-weight="bold" font-style="normal" text-anchor="end" fill="#111" stroke="#111" stroke-width="0.22" >3.0</text>
<line x1="449" y1="508.6" x2="452" y2="508.6" stroke="#111" stroke-width="1.2"/>
<text x="443.8" y="513.2" font-size="11.3" font-weight="bold" font-style="normal" text-anchor="end" fill="#111" stroke="#111" stroke-width="0.22" >2.5</text>
<line x1="449" y1="541.1" x2="452" y2="541.1" stroke="#111" stroke-width="1.2"/>
<text x="443.8" y="545.7" font-size="11.3" font-weight="bold" font-style="normal" text-anchor="end" fill="#111" stroke="#111" stroke-width="0.22" >2.0</text>
<line x1="449" y1="573.6" x2="452" y2="573.6" stroke="#111" stroke-width="1.2"/>
<text x="443.8" y="578.2" font-size="11.3" font-weight="bold" font-style="normal" text-anchor="end" fill="#111" stroke="#111" stroke-width="0.22" >1.5</text>
<line x1="449" y1="606.1" x2="452" y2="606.1" stroke="#111" stroke-width="1.2"/>
<text x="443.8" y="610.7" font-size="11.3" font-weight="bold" font-style="normal" text-anchor="end" fill="#111" stroke="#111" stroke-width="0.22" >1.0</text>
<line x1="449" y1="638.6" x2="452" y2="638.6" stroke="#111" stroke-width="1.2"/>
<text x="443.8" y="643.2" font-size="11.3" font-weight="bold" font-style="normal" text-anchor="end" fill="#111" stroke="#111" stroke-width="0.22" >0.5</text>
<line x1="489.3" y1="639" x2="489.3" y2="642" stroke="#111" stroke-width="1.2"/>
<text x="489.3" y="658" font-size="11.3" font-weight="bold" font-style="normal" text-anchor="middle" fill="#111" stroke="#111" stroke-width="0.22" >0</text>
<line x1="527.1" y1="639" x2="527.1" y2="642" stroke="#111" stroke-width="1.2"/>
<text x="527.1" y="658" font-size="11.3" font-weight="bold" font-style="normal" text-anchor="middle" fill="#111" stroke="#111" stroke-width="0.22" >6</text>
<line x1="565" y1="639" x2="565" y2="642" stroke="#111" stroke-width="1.2"/>
<text x="565" y="658" font-size="11.3" font-weight="bold" font-style="normal" text-anchor="middle" fill="#111" stroke="#111" stroke-width="0.22" >12</text>
<line x1="603" y1="639" x2="603" y2="642" stroke="#111" stroke-width="1.2"/>
<text x="603" y="658" font-size="11.3" font-weight="bold" font-style="normal" text-anchor="middle" fill="#111" stroke="#111" stroke-width="0.22" >24</text>
<line x1="640.5" y1="639" x2="640.5" y2="642" stroke="#111" stroke-width="1.2"/>
<text x="640.5" y="658" font-size="11.3" font-weight="bold" font-style="normal" text-anchor="middle" fill="#111" stroke="#111" stroke-width="0.22" >36</text>
<text x="650.3" y="658" font-size="11.3" font-weight="bold" font-style="normal" text-anchor="start" fill="#111" stroke="#111" stroke-width="0.22" >(h)</text>
<text x="0" y="0" font-size="11.4" font-weight="bold" text-anchor="middle" fill="#111" stroke="#111" stroke-width="0.22" transform="translate(420.2,559.7) rotate(-90)">Relative phosphorylation level</text>
<polyline points="489.3,606.10 527.1,606.10 565,606.10 603,606.10 640.5,607.08" fill="none" stroke="#a8b03c" stroke-width="1.4"/>
<polyline points="489.3,606.10 527.1,606.10 565,606.10 603,606.10 640.5,604.15" fill="none" stroke="#22229c" stroke-width="1.4"/>
<polyline points="489.3,606.10 527.1,597.65 565,571.65 603,503.40 640.5,553.45" fill="none" stroke="#b8409e" stroke-width="1.4"/>
<line x1="527.1" y1="595.05" x2="527.1" y2="600.25" stroke="#111" stroke-width="1.1"/>
<line x1="524.3000000000001" y1="595.05" x2="529.9" y2="595.05" stroke="#111" stroke-width="1.1"/>
<line x1="524.3000000000001" y1="600.25" x2="529.9" y2="600.25" stroke="#111" stroke-width="1.1"/>
<circle cx="527.1" cy="597.65" r="2.5" fill="#111"/>
<line x1="565" y1="569.05" x2="565" y2="574.25" stroke="#111" stroke-width="1.1"/>
<line x1="562.2" y1="569.05" x2="567.8" y2="569.05" stroke="#111" stroke-width="1.1"/>
<line x1="562.2" y1="574.25" x2="567.8" y2="574.25" stroke="#111" stroke-width="1.1"/>
<circle cx="565" cy="571.65" r="2.5" fill="#111"/>
<line x1="603" y1="499.50" x2="603" y2="507.30" stroke="#111" stroke-width="1.1"/>
<line x1="600.2" y1="499.50" x2="605.8" y2="499.50" stroke="#111" stroke-width="1.1"/>
<line x1="600.2" y1="507.30" x2="605.8" y2="507.30" stroke="#111" stroke-width="1.1"/>
<circle cx="603" cy="503.40" r="2.5" fill="#111"/>
<line x1="640.5" y1="549.55" x2="640.5" y2="557.35" stroke="#111" stroke-width="1.1"/>
<line x1="637.7" y1="549.55" x2="643.3" y2="549.55" stroke="#111" stroke-width="1.1"/>
<line x1="637.7" y1="557.35" x2="643.3" y2="557.35" stroke="#111" stroke-width="1.1"/>
<circle cx="640.5" cy="553.45" r="2.5" fill="#111"/>
<rect x="486.8" y="601.6" width="5" height="9" fill="#333" opacity="0.5"/>
<line x1="486.6" y1="601.6" x2="492.0" y2="601.6" stroke="#111" stroke-width="1.1"/>
<line x1="486.6" y1="610.6" x2="492.0" y2="610.6" stroke="#111" stroke-width="1.1"/>
<circle cx="489.3" cy="606.10" r="2.3" fill="#111"/>
<rect x="524.6" y="601.6" width="5" height="9" fill="#333" opacity="0.5"/>
<line x1="524.4" y1="601.6" x2="529.8000000000001" y2="601.6" stroke="#111" stroke-width="1.1"/>
<line x1="524.4" y1="610.6" x2="529.8000000000001" y2="610.6" stroke="#111" stroke-width="1.1"/>
<circle cx="527.1" cy="606.10" r="2.3" fill="#111"/>
<rect x="562.5" y="601.6" width="5" height="9" fill="#333" opacity="0.5"/>
<line x1="562.3" y1="601.6" x2="567.7" y2="601.6" stroke="#111" stroke-width="1.1"/>
<line x1="562.3" y1="610.6" x2="567.7" y2="610.6" stroke="#111" stroke-width="1.1"/>
<circle cx="565" cy="606.10" r="2.3" fill="#111"/>
<rect x="600.5" y="601.6" width="5" height="9" fill="#333" opacity="0.5"/>
<line x1="600.3" y1="601.6" x2="605.7" y2="601.6" stroke="#111" stroke-width="1.1"/>
<line x1="600.3" y1="610.6" x2="605.7" y2="610.6" stroke="#111" stroke-width="1.1"/>
<circle cx="603" cy="606.10" r="2.3" fill="#111"/>
<rect x="638.0" y="601.6" width="5" height="9" fill="#333" opacity="0.5"/>
<line x1="637.8" y1="601.6" x2="643.2" y2="601.6" stroke="#111" stroke-width="1.1"/>
<line x1="637.8" y1="610.6" x2="643.2" y2="610.6" stroke="#111" stroke-width="1.1"/>
<circle cx="640.5" cy="606.10" r="2.3" fill="#111"/>
<text x="530.6" y="597.8" font-size="10.5" font-weight="bold" font-style="normal" text-anchor="start" fill="#111" stroke="#111" stroke-width="0.22" >b</text>
<text x="568.3" y="575.25" font-size="10.5" font-weight="bold" font-style="normal" text-anchor="start" fill="#111" stroke="#111" stroke-width="0.22" >b</text>
<text x="605.2" y="507.40000000000003" font-size="10.5" font-weight="bold" font-style="normal" text-anchor="start" fill="#111" stroke="#111" stroke-width="0.22" >b</text>
<text x="643.7" y="557.0500000000001" font-size="10.5" font-weight="bold" font-style="normal" text-anchor="start" fill="#111" stroke="#111" stroke-width="0.22" >b</text>
<text x="492.8" y="601" font-size="9" font-weight="bold" font-style="normal" text-anchor="start" fill="#111" stroke="#111" stroke-width="0.22" >a</text>
<text x="492.8" y="613.5" font-size="9" font-weight="bold" font-style="normal" text-anchor="start" fill="#111" stroke="#111" stroke-width="0.22" >a</text>
<text x="530.1" y="604.3" font-size="9" font-weight="bold" font-style="normal" text-anchor="start" fill="#111" stroke="#111" stroke-width="0.22" >a</text>
<text x="530.1" y="610.6" font-size="9" font-weight="bold" font-style="normal" text-anchor="start" fill="#111" stroke="#111" stroke-width="0.22" >a</text>
<text x="568" y="604.3" font-size="9" font-weight="bold" font-style="normal" text-anchor="start" fill="#111" stroke="#111" stroke-width="0.22" >a</text>
<text x="568" y="610.6" font-size="9" font-weight="bold" font-style="normal" text-anchor="start" fill="#111" stroke="#111" stroke-width="0.22" >a</text>
<text x="606" y="604.3" font-size="9" font-weight="bold" font-style="normal" text-anchor="start" fill="#111" stroke="#111" stroke-width="0.22" >a</text>
<text x="606" y="610.6" font-size="9" font-weight="bold" font-style="normal" text-anchor="start" fill="#111" stroke="#111" stroke-width="0.22" >a</text>
<text x="643.5" y="604.3" font-size="9" font-weight="bold" font-style="normal" text-anchor="start" fill="#111" stroke="#111" stroke-width="0.22" >a</text>
<text x="643.5" y="610.6" font-size="9" font-weight="bold" font-style="normal" text-anchor="start" fill="#111" stroke="#111" stroke-width="0.22" >a</text>
<line x1="547" y1="455.5" x2="574.6" y2="455.5" stroke="#b8409e" stroke-width="1.3"/>
<circle cx="560.6" cy="455.5" r="2.2" fill="#111"/>
<line x1="547" y1="470.4" x2="574.6" y2="470.4" stroke="#a8b03c" stroke-width="1.3"/>
<circle cx="560.6" cy="470.4" r="2" fill="#fff" stroke="#111" stroke-width="0.8"/>
<line x1="547" y1="485.5" x2="574.6" y2="485.5" stroke="#22229c" stroke-width="1.3"/>
<path d="M558.2,484.0 L563,484.0 L560.6,487.5 Z" fill="#111"/>
<text x="580.8" y="460" font-size="11.5" font-weight="bold" font-style="italic" fill="#111" stroke="#111" stroke-width="0.22">BOR1-FLAG<tspan font-style="normal">/WT</tspan></text>
<text x="580.8" y="474.9" font-size="11.5" font-weight="bold" font-style="italic" fill="#111" stroke="#111" stroke-width="0.22">BOR1<tspan font-size="8" dy="-5">S689A</tspan><tspan dy="5">-FLAG</tspan><tspan font-style="normal">/WT</tspan></text>
<text x="580.8" y="489" font-size="11.5" font-weight="bold" font-style="italic" fill="#111" stroke="#111" stroke-width="0.22">BOR1-FLAG<tspan font-style="normal">/</tspan>cpk10</text>
</svg></body></html>
